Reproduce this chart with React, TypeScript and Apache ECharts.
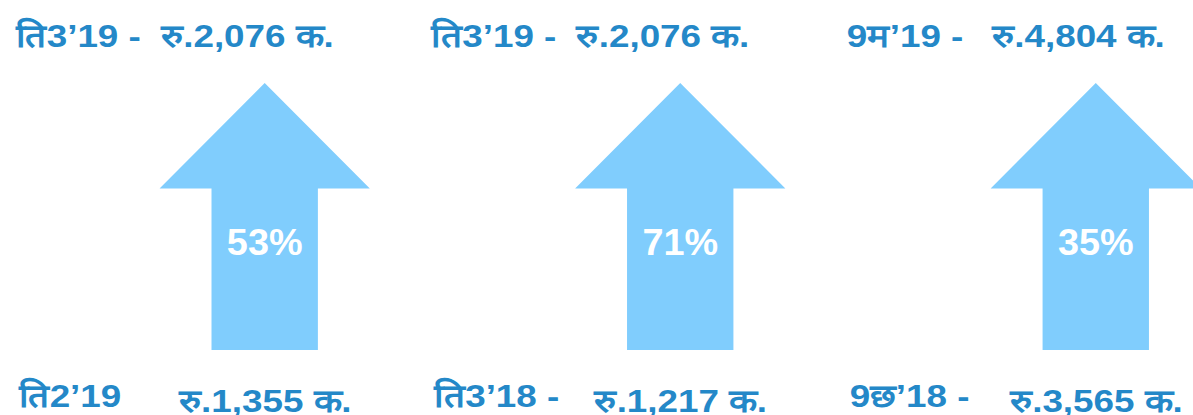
import React, { useEffect, useRef } from "react";
import * as echarts from "echarts";

// ---- data ----
const positions = [0, 1, 2];
const currentPeriods = ["ति3’19 -", "ति3’19 -", "9म’19 -"];
const currentValues = [2076, 2076, 4804];
const basePeriods = ["ति2’19", "ति3’18 -", "9छ’18 -"];
const baseValues = [1355, 1217, 3565];
const growthPct = [53, 71, 35];

const fmtValue = (v: number) => `रु.${v.toLocaleString("en-US")} क.`;

const LABEL_COLOR = "#2488C8";
const ARROW_COLOR = "#80CDFD";
const FONT_FAMILY = "'Liberation Sans', Arial, sans-serif";

export default function App() {
  const ref = useRef<HTMLDivElement>(null);

  useEffect(() => {
    if (!ref.current) return;
    const chart = echarts.init(ref.current, undefined, { renderer: "svg" });

    const labelFont = `bold 32px ${FONT_FAMILY}`;
    const pctFont = `bold 36px ${FONT_FAMILY}`;

    const option: any = {
      animation: false,
      grid: { left: 0, right: 0, top: 83, bottom: 65 },
      xAxis: { type: "value", min: -0.637, max: 2.234, show: false },
      yAxis: { type: "value", min: 0, max: 1, show: false },
      series: [
        {
          type: "custom",
          data: positions.map((p) => [p, 1]),
          renderItem: (params: any, api: any) => {
            const i = params.dataIndex;
            const xv = api.value(0);
            const base = api.coord([xv, 0]);
            const tip = api.coord([xv, api.value(1)]);
            const unit = api.size([1, 0])[0];
            const cx = base[0];
            const H = base[1] - tip[1];
            const headHalf = unit * 0.253;
            const shaftHalf = unit * 0.128;
            const headBase = tip[1] + H * 0.395;
            const pts = [
              [cx, tip[1]],
              [cx + headHalf, headBase],
              [cx + shaftHalf, headBase],
              [cx + shaftHalf, base[1]],
              [cx - shaftHalf, base[1]],
              [cx - shaftHalf, headBase],
              [cx - headHalf, headBase],
            ];
            const txt = (text: string, x: number, y: number, font: string, fill: string, align: string, sx: number) => ({
              type: "text",
              x,
              y,
              scaleX: sx,
              style: { text, font, fill, textAlign: align, textVerticalAlign: "middle" },
            });
            return {
              type: "group",
              children: [
                { type: "polygon", shape: { points: pts }, style: { fill: ARROW_COLOR } },
                txt(`${growthPct[i]}%`, cx, tip[1] + H * 0.6, pctFont, "#ffffff", "center", 1.05),
                txt(currentPeriods[i], cx - unit * 0.599, tip[1] - 47, labelFont, LABEL_COLOR, "left", 1.15),
                txt(fmtValue(currentValues[i]), cx - unit * 0.25, tip[1] - 47, labelFont, LABEL_COLOR, "left", 1.15),
                txt(basePeriods[i], cx - unit * 0.592, base[1] + 46, labelFont, LABEL_COLOR, "left", 1.15),
                txt(fmtValue(baseValues[i]), cx - unit * 0.207, base[1] + 51, labelFont, LABEL_COLOR, "left", 1.15),
              ],
            };
          },
        },
      ],
    };

    chart.setOption(option);
    return () => chart.dispose();
  }, []);

  return (
    <div
      ref={ref}
      style={{ position: "absolute", left: 0, top: 0, width: 1193, height: 415, background: "#ffffff" }}
    />
  );
}
